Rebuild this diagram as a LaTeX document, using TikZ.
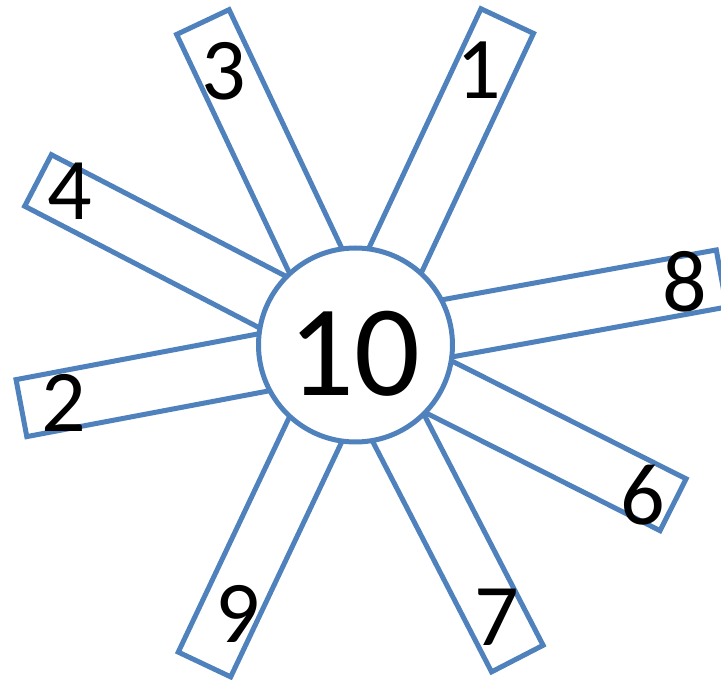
\documentclass[tikz,border=0pt]{standalone}
\usepackage{fontspec}
\setmainfont{Carlito}
\definecolor{spokeblue}{HTML}{4F81BD}
\begin{document}
\begin{tikzpicture}[x=1pt,y=1pt,
  spoke/.style={draw=spokeblue,line width=5pt,fill=white,rectangle,minimum height=58pt,inner sep=0pt,line join=miter},
  hub/.style={draw=spokeblue,line width=5pt,fill=white,circle,minimum size=194pt,inner sep=0pt},
  num/.style={anchor=base,inner sep=0pt,font=\fontsize{88}{88}\selectfont},
  bignum/.style={anchor=base,inner sep=0pt,font=\fontsize{130}{130}\selectfont}]
\useasboundingbox (-355.5,-335) rectangle (365.5,345);
\foreach \ang/\len/\nm in {64.9/357.7/s1,115.3/357.2/s3,152.6/357.6/s4,190.7/340/s2,10.3/372/s8,-26.7/355.5/s6,-62.7/352.9/s7,-115.3/353.4/s9}{
  \node[spoke,rotate=\ang,minimum width=\len pt] (\nm) at (\ang:\len/2) {};
}
\node[hub] (hub) at (0,0) {};
\node[bignum] (t10) at (-1,-51) {10};
\node[num] (t1) at (123.5,246) {1};
\node[num] (t3) at (-131.5,245) {3};
\node[num] (t4) at (-285.5,125) {4};
\node[num] (t2) at (-291.5,-87) {2};
\node[num] (t8) at (329.5,33) {8};
\node[num] (t6) at (287.5,-180) {6};
\node[num] (t7) at (141.5,-300) {7};
\node[num] (t9) at (-117.5,-298) {9};
\end{tikzpicture}
\end{document}
